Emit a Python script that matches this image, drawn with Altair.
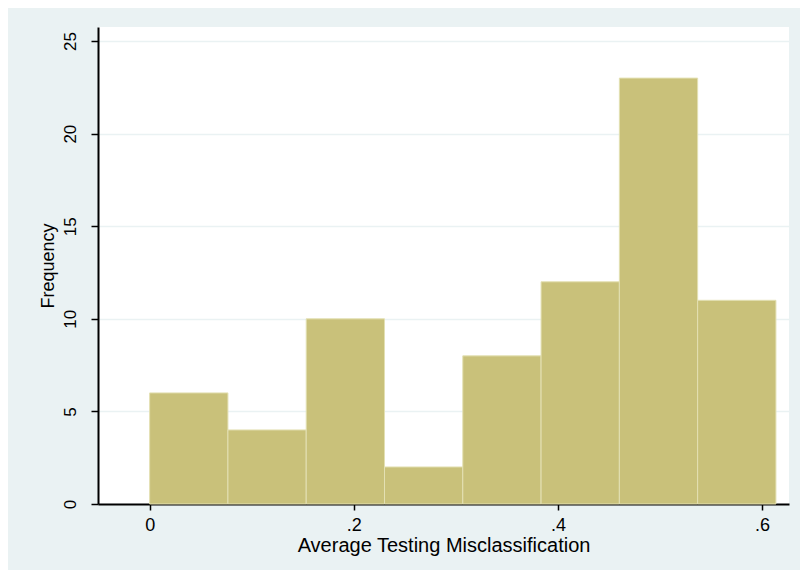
import altair as alt
import pandas as pd

# Histogram of average testing misclassification
bin_starts = [0.0, 0.0767, 0.1534, 0.2301, 0.3068, 0.3835, 0.4602, 0.5369]
bin_ends = [0.0767, 0.1534, 0.2301, 0.3068, 0.3835, 0.4602, 0.5369, 0.6136]
frequencies = [6, 4, 10, 2, 8, 12, 23, 11]

x_tick_values = [0, 0.2, 0.4, 0.6]
x_tick_labels = ["0", ".2", ".4", ".6"]
y_tick_values = [0, 5, 10, 15, 20, 25]

x_title = "Average Testing Misclassification"
y_title = "Frequency"

df = pd.DataFrame({"start": bin_starts, "end": bin_ends, "count": frequencies})

# label expression built from the tick lists
label_expr = "''"
for v, lab in reversed(list(zip(x_tick_values, x_tick_labels))):
    label_expr = f"(abs(datum.value - {v}) < 1e-9 ? '{lab}' : {label_expr})"

FONT = "Liberation Sans"
BG = "#EAF2F3"

bars = alt.Chart(df).mark_rect(
    color="#C9C17A", stroke="#E3E0B3", strokeWidth=1
).encode(
    x=alt.X(
        "start:Q",
        scale=alt.Scale(domain=[-0.0506, 0.6264], nice=False, zero=False),
        axis=alt.Axis(
            values=x_tick_values,
            labelExpr=label_expr,
            title=x_title,
            grid=False,
            domainColor="black",
            domainWidth=2,
            tickColor="black",
            tickWidth=1.5,
            tickSize=6,
            labelFont=FONT,
            labelFontSize=18,
            labelColor="black",
            labelPadding=6,
            titleFont=FONT,
            titleFontSize=20,
            titleFontWeight="normal",
            titleColor="black",
            titlePadding=1,
        ),
    ),
    x2="end:Q",
    y=alt.Y(
        "count:Q",
        scale=alt.Scale(domain=[0, 25.76], nice=False),
        axis=alt.Axis(
            values=y_tick_values,
            title=y_title,
            grid=True,
            gridColor=BG,
            gridWidth=1.5,
            domainColor="black",
            domainWidth=2,
            tickColor="black",
            tickWidth=1.5,
            tickSize=7,
            labelFont=FONT,
            labelFontSize=17,
            labelColor="black",
            labelAngle=270,
            labelAlign="center",
            labelBaseline="bottom",
            labelPadding=12,
            titleFont=FONT,
            titleFontSize=18,
            titleFontWeight="normal",
            titleColor="black",
            titleAngle=270,
            titleAlign="center",
            titleBaseline="bottom",
            titleX=-41,
        ),
    ),
    y2=alt.datum(0),
)

chart = bars.properties(
    width=691,
    height=477,
    autosize=alt.AutoSizeParams(type="none"),
    padding={"left": 90, "top": 19, "right": 11, "bottom": 66},
    background=BG,
).configure_view(
    fill="white", stroke=None
)

chart.save("out.html", embed_options={"renderer": "svg", "actions": False})
